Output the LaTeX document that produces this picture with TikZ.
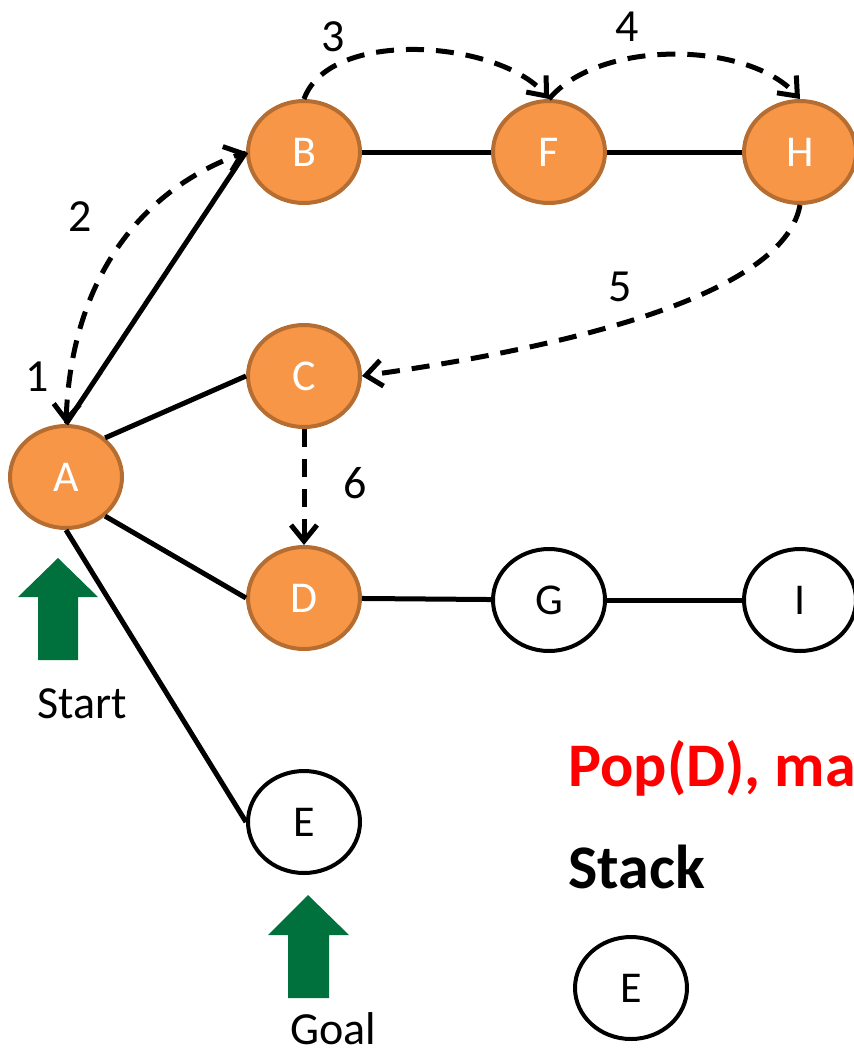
\documentclass[tikz,border=0pt]{standalone}
\usepackage{fontspec}
\setmainfont{Carlito}
\usetikzlibrary{arrows.meta, shapes.geometric}

\definecolor{visitorange}{RGB}{247,150,70}
\definecolor{visitborder}{RGB}{182,109,49}
\definecolor{markgreen}{RGB}{0,112,60}

\begin{document}
\begin{tikzpicture}[x=0.5pt,y=-0.5pt]
\clip (0,0) rectangle (854,1055);

\begin{scope}[
    every node/.style={ellipse,line width=2pt,minimum width=56pt,minimum height=51pt,
                       inner sep=0pt,font=\fontsize{22}{26}\selectfont}]
    \node (A) at (66, 477) [draw=visitborder,fill=visitorange,text=white] {A};

    % % visited nodes
    \node (B) at (304, 152) [draw=visitborder,fill=visitorange,text=white] {B};
    \node (F) at (549, 152) [draw=visitborder,fill=visitorange,text=white] {F};
    \node (H) at (800, 152) [draw=visitborder,fill=visitorange,text=white] {H};
    \node (C) at (304, 376) [draw=visitborder,fill=visitorange,text=white] {C};
    \node (D) at (304, 598) [draw=visitborder,fill=visitorange,text=white] {D};

    % % unvisited nodes
    \node (G) at (549, 600) [draw=black,fill=white] {G};
    \node (I) at (800, 600) [draw=black,fill=white] {I};
    \node (E) at (304, 822) [draw=black,fill=white] {E};

    % % stack
    \node (S1) at (631, 988) [draw=black,fill=white] {E};
\end{scope}

\begin{scope}[every edge/.style={draw=black,line width=2.5pt}]
    \path (A.north) edge (B.west);
    \path (A.45) edge (C.west);
    \path (A.-45) edge (D.west);
    \path (A.south) edge (E.west);
    \path (B) edge (F);
    \path (F) edge (H);
    \path (D) edge (G);
    \path (G) edge (I);
\end{scope}

\begin{scope}[>={Straight Barb[length=8pt,width=13pt]},
              every edge/.style={draw=black,line width=2.5pt,dash pattern=on 9pt off 6pt}]
    \path [<->] (A.north) edge [out=88,in=200] (B.west);
    \path [->] (B.north) edge [out=70,in=130,looseness=0.8] (F.north);
    \path [->] (F.north) edge [out=50,in=132,looseness=0.8] (H.north);
    \path [->] (H.south) edge [out=-100,in=8,looseness=0.6] (C.east);
    \path [->] (C.south) edge (D.north);
\end{scope}

\begin{scope}[every node/.style={inner sep=0pt,font=\fontsize{23}{28}\selectfont}]
    \node (step1) at (37, 377) {1};
    \node (step2) at (80, 217) {2};
    \node (step3) at (333, 37) {3};
    \node (step4) at (627, 27) {4};
    \node (step5) at (620, 287) {5};
    \node (step6) at (355, 483) {6};
    \node (start) [anchor=base west] at (37, 718) {Start};
    \node (goal) [anchor=base west] at (290, 1044) {Goal};
\end{scope}

\begin{scope}[every node/.style={inner sep=0pt,anchor=base west,font=\bfseries\fontsize{31}{36}\selectfont}]
    \node (pop) [text=red] at (568, 786) {Pop(D), ma};
    \node (stack) at (568, 888) {Stack};
\end{scope}

% % start and goal markers
\fill [markgreen] (38,660) -- (38,597) -- (18,597) -- (58,558) -- (98,597) -- (78,597) -- (78,660) -- cycle;
\fill [markgreen] (288,998) -- (288,935) -- (268,935) -- (308,895) -- (349,935) -- (329,935) -- (329,998) -- cycle;
\end{tikzpicture}
\end{document}
